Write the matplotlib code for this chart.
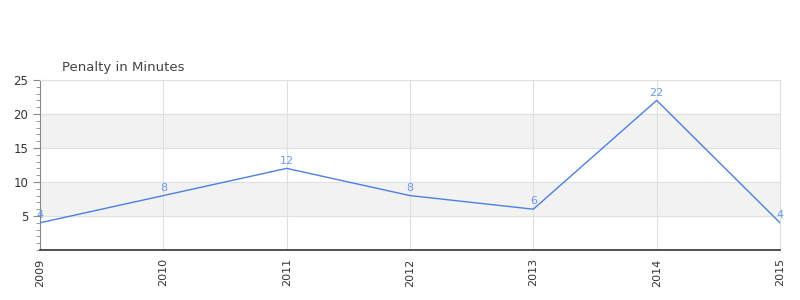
import matplotlib
matplotlib.use('Agg')
import matplotlib.pyplot as plt
from matplotlib.ticker import MultipleLocator

years = ['2009', '2010', '2011', '2012', '2013', '2014', '2015']
penalty = [4, 8, 12, 8, 6, 22, 4]

fig = plt.figure(figsize=(8, 3), dpi=100)
ax = fig.add_axes([0.05, 0.1667, 0.925, 0.5667])

x = list(range(len(years)))
ax.set_xlim(0, len(years) - 1)
ax.set_ylim(0, 25)

# alternating bands
for lo in (5, 15):
    ax.axhspan(lo, lo + 5, color='#f2f2f2', zorder=0)
for y in (5, 10, 15, 20, 25):
    ax.axhline(y, color='#e0e0e0', lw=0.8, zorder=1)
for xi in x:
    ax.axvline(xi, color='#e0e0e0', lw=0.8, zorder=1)

ax.plot(x, penalty, color='#4a80e0', lw=1, zorder=3)
for xi, v in zip(x, penalty):
    ax.text(xi, v + 0.4, str(v), color='#6a9ae8', fontsize=8,
            ha='center', va='bottom', zorder=4)

ax.axhline(0, color='#cc0000', lw=0.8, zorder=2)

ax.set_xticks(x)
ax.set_xticklabels(years, rotation=90, fontsize=8, color='#333333')
ax.set_yticks([5, 10, 15, 20, 25])
ax.set_yticklabels(['5', '10', '15', '20', '25'], fontsize=8.5, color='#333333')
ax.yaxis.set_minor_locator(MultipleLocator(1))
ax.tick_params(axis='y', which='major', length=5, color='#888888')
ax.tick_params(axis='y', which='minor', length=3, color='#888888')
ax.tick_params(axis='x', length=0, pad=6)

for s in ('top', 'right'):
    ax.spines[s].set_color('#e0e0e0')
    ax.spines[s].set_linewidth(0.8)
ax.spines['left'].set_color('#888888')
ax.spines['bottom'].set_color('#333333')
ax.spines['bottom'].set_linewidth(1.2)

fig.text(62 / 800, 1 - 67 / 300, 'Penalty in Minutes', fontsize=9.5,
         color='#444444', ha='left', va='center')

fig.savefig('out.png', dpi=100)
